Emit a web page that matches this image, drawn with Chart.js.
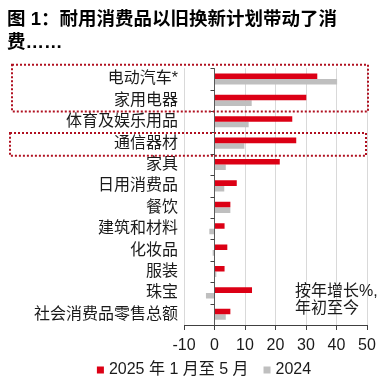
<!DOCTYPE html>
<html>
<head>
<meta charset="utf-8">
<script src="https://cdn.jsdelivr.net/npm/chart.js@4.4.0/dist/chart.umd.min.js"></script>
<style>
  html, body { margin: 0; padding: 0; background: #fff; }
  #wrap { width: 389px; height: 388px; }
</style>
</head>
<body>
<div id="wrap"><canvas id="chart"></canvas></div>
<script>
const categories = [
  "电动汽车*",
  "家用电器",
  "体育及娱乐用品",
  "通信器材",
  "家具",
  "日用消费品",
  "餐饮",
  "建筑和材料",
  "化妆品",
  "服装",
  "珠宝",
  "社会消费品零售总额",
];
const ytd2025 = [33.7, 30.1, 25.5, 26.8, 21.4, 7.3, 5.2, 3.3, 4.2, 3.3, 12.3, 5.2];
const full2024 = [40.2, 12.2, 11.2, 9.8, 3.7, 3.2, 5.2, -1.7, -0.6, 0.6, -2.8, 3.7];
const xTicks = [-10, 0, 10, 20, 30, 40, 50];
const seriesNames = ["2025 年 1 月至 5 月", "2024"];
const highlightGroups = [[0, 1], [3, 3]]; // dotted boxes
const noteLines = ["按年增长%,", "年初至今"];

const red = "#dc0015";
const gray = "#bfbfbf";
const fontFamily = "'Liberation Sans', Arial, 'Noto Sans CJK SC', sans-serif";
const textColor = "#1a1a1a";

// extra drawing: category ticks on the zero line, dotted boxes, note, legend
const extras = {
  id: "extras",
  afterDraw(chart) {
    const ctx = chart.ctx;
    const x = chart.scales.x;
    const y = chart.scales.y;
    const x0 = x.getPixelForValue(0);
    ctx.save();

    // category tick marks
    ctx.strokeStyle = "#404040";
    ctx.lineWidth = 1;
    for (let i = 0; i < categories.length; i++) {
      const yy = Math.round(y.getPixelForValue(i - 0.5)) + 0.5;
      ctx.beginPath();
      ctx.moveTo(x0 - 4, yy);
      ctx.lineTo(x0, yy);
      ctx.stroke();
    }

    // dotted highlight boxes
    ctx.strokeStyle = "#b01020";
    ctx.lineWidth = 2;
    ctx.setLineDash([2, 2]);
    highlightGroups.forEach((g, k) => {
      const top = y.getPixelForValue(g[0] - 0.5) + (k === 0 ? -3.5 : 0.5);
      const bottom = y.getPixelForValue(g[1] + 0.5) + (k === 0 ? 0.5 : 2);
      const left = k === 0 ? 12 : 10;
      const right = k === 0 ? 368 : 366;
      ctx.strokeRect(left, top, right - left, bottom - top);
    });
    ctx.setLineDash([]);

    // note text
    ctx.fillStyle = textColor;
    ctx.font = "16px " + fontFamily;
    ctx.textAlign = "left";
    ctx.textBaseline = "middle";
    ctx.fillText(noteLines[0], 295, 292);
    ctx.fillText(noteLines[1], 295, 309);

    // legend
    const items = chart.data.datasets;
    const box = 7;
    const gapBox = 5;
    const gapItem = 15;
    let widths = items.map((d) => box + gapBox + ctx.measureText(d.label).width);
    let total = widths.reduce((a, b) => a + b, 0) + gapItem * (items.length - 1);
    let lx = 204 - total / 2;
    const ly = 370;
    items.forEach((d, i) => {
      ctx.fillStyle = d.backgroundColor;
      ctx.fillRect(lx, ly - box / 2, box, box);
      ctx.fillStyle = textColor;
      ctx.fillText(d.label, lx + box + gapBox, ly);
      lx += widths[i] + gapItem;
    });
    ctx.restore();
  },
};

new Chart(document.getElementById("chart"), {
  type: "bar",
  data: {
    labels: categories,
    datasets: [
      { label: seriesNames[0], data: ytd2025, backgroundColor: red },
      { label: seriesNames[1], data: full2024, backgroundColor: gray },
    ],
  },
  options: {
    indexAxis: "y",
    responsive: true,
    maintainAspectRatio: false,
    animation: false,
    categoryPercentage: 0.52,
    barPercentage: 1.0,
    layout: { padding: { left: 7, right: 22, top: 0, bottom: 0 } },
    plugins: {
      legend: { display: false },
      tooltip: { enabled: false },
      title: {
        display: true,
        text: ["图 1：耐用消费品以旧换新计划带动了消", "费……"],
        align: "start",
        color: "#000",
        font: { family: fontFamily, size: 18.5, weight: "bold", lineHeight: 1.25 },
        padding: { top: 8, bottom: 14 },
      },
    },
    scales: {
      x: {
        min: -10,
        max: 50,
        afterBuildTicks: (scale) => {
          scale.ticks = xTicks.map((v) => ({ value: v }));
        },
        afterFit: (scale) => {
          scale.height = 63;
        },
        grid: {
          color: (c) => (c.tick && c.tick.value === 0 ? "#595959" : "#d9d9d9"),
          tickColor: "#404040",
          tickLength: 5,
          drawTicks: true,
        },
        border: { display: true, color: "#404040", width: 1 },
        ticks: {
          color: textColor,
          font: { family: fontFamily, size: 16 },
          padding: 6,
          maxRotation: 0,
        },
      },
      y: {
        afterFit: (scale) => {
          scale.width = 177;
        },
        grid: { display: false, drawTicks: false },
        border: { display: false },
        ticks: {
          color: textColor,
          font: { family: fontFamily, size: 16 },
          padding: 6,
          autoSkip: false,
        },
      },
    },
  },
  plugins: [extras],
});
</script>
</body>
</html>
